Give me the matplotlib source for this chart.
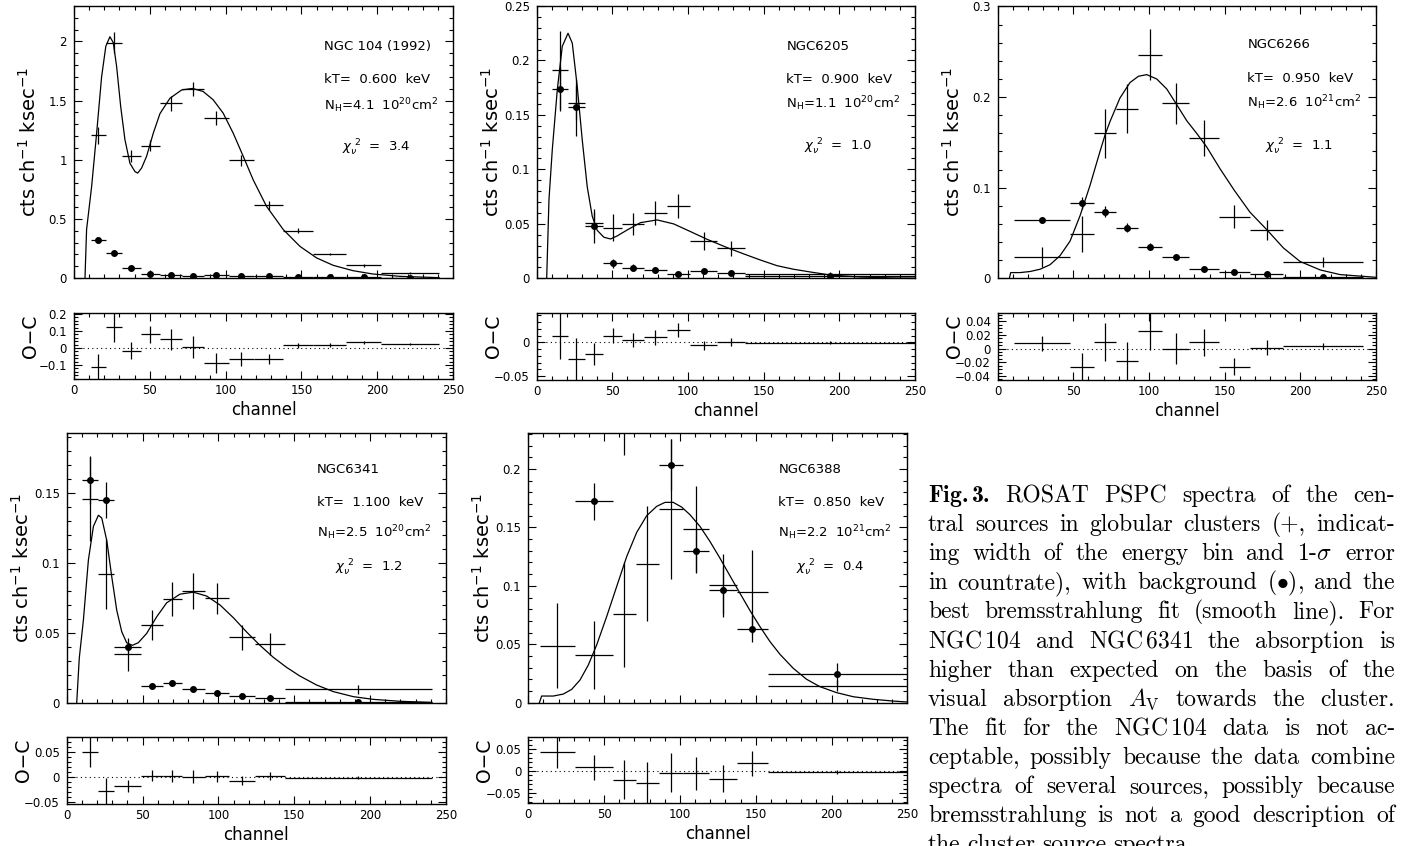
import matplotlib
matplotlib.use('Agg')
import matplotlib.pyplot as plt
import numpy as np
from matplotlib.ticker import MultipleLocator, FuncFormatter

nan = np.nan

# --- NGC 104 (1992) ---
edges1 = [11, 21, 31.4, 43.9, 56.9, 71, 85.7, 102, 118.6, 138, 157.7, 179.7, 202.8, 240.8]
src1 = [1.206, 1.99, 1.034, 1.12, 1.476, 1.597, 1.35, 0.994, 0.614, 0.40, 0.203, 0.107, 0.042]
src1_err = [0.07, 0.09, 0.05, 0.05, 0.06, 0.06, 0.06, 0.045, 0.035, 0.02, 0.012, 0.01, 0.006]
bg1 = [0.324, 0.208, 0.082, 0.034, 0.028, 0.02, 0.028, 0.017, 0.014, 0.006, 0.006, 0.006, 0.0]
bg1_err = [0.01, 0.008, 0.006, 0.005, 0.004, 0.004, 0.004, 0.003, 0.003, 0.002, 0.002, 0.002, 0.001]
res1 = [-0.112, 0.124, -0.016, 0.082, 0.051, 0.004, -0.088, -0.063, -0.063, 0.016, 0.018, 0.033, 0.025]
res1_err = [0.075, 0.09, 0.05, 0.05, 0.06, 0.065, 0.06, 0.04, 0.03, 0.015, 0.01, 0.008, 0.005]
fit1_ch = [7.25, 8.3, 11.6, 14.9, 18.2, 21.0, 23.7, 25.9, 28.1, 30.8, 33.6, 36.9, 40.2, 42.0, 44.6,
           47.9, 52.3, 56.7, 63.3, 71.0, 78.2, 85.2, 91.8, 98.4, 105.0, 111.6, 118.2, 127.0, 138.0,
           149.0, 160.0, 171.0, 184.0, 197.0, 215.0, 240.8]
fit1_y = [0.0, 0.41, 0.77, 1.22, 1.70, 1.96, 2.04, 1.99, 1.79, 1.45, 1.17, 0.97, 0.90, 0.887, 0.93,
          1.03, 1.225, 1.39, 1.52, 1.59, 1.603, 1.577, 1.507, 1.394, 1.225, 1.03, 0.83, 0.606, 0.41,
          0.268, 0.17, 0.107, 0.062, 0.034, 0.014, 0.003]

# --- NGC6205 ---
edges2 = [10.3, 20.7, 31.6, 44.0, 56.5, 70.8, 85.8, 101.6, 119.2, 137.9, 250]
src2 = [0.191, 0.161, 0.0505, 0.0466, 0.0496, 0.060, 0.0668, 0.0343, 0.0276, 0.004]
src2_err = [0.036, 0.016, 0.01, 0.012, 0.01, 0.011, 0.011, 0.008, 0.007, 0.002]
bg2 = [0.174, 0.157, 0.048, 0.0138, 0.0098, 0.0077, 0.004, 0.0067, 0.0046, 0.002]
bg2_err = [0.02, 0.026, 0.016, 0.004, 0.003, 0.003, 0.002, 0.002, 0.002, 0.001]
res2 = [0.0099, -0.025, -0.0173, 0.0099, 0.0035, 0.0074, 0.0183, -0.0045, 0.001, -0.0005]
res2_err = [0.035, 0.031, 0.017, 0.011, 0.01, 0.011, 0.011, 0.007, 0.006, 0.002]
fit2_ch = [6.6, 8.1, 10.3, 13.6, 16.9, 20.7, 23.5, 26.8, 30.1, 33.4, 36.7, 40.0, 44.4, 48.8, 53.2,
           59.8, 68.6, 79.6, 90.6, 101.6, 112.6, 125.8, 136.8, 147.8, 158.8, 169.8, 180.8, 194.0,
           213.7, 235.7, 250]
fit2_y = [0.0, 0.072, 0.118, 0.173, 0.213, 0.225, 0.216, 0.176, 0.127, 0.084, 0.057, 0.044, 0.0377,
          0.0361, 0.0389, 0.0444, 0.0511, 0.0536, 0.0499, 0.0429, 0.0358, 0.0282, 0.0224, 0.0168,
          0.0116, 0.0083, 0.0058, 0.003, 0.0012, 0.0003, 0.0001]

# --- NGC6266 ---
edges3 = [11, 47.8, 63.9, 78.2, 93, 108.8, 126.6, 146, 166.7, 188.8, 241.2]
src3 = [0.0235, 0.049, 0.16, 0.187, 0.247, 0.193, 0.155, 0.068, 0.053, 0.018]
src3_err = [0.011, 0.02, 0.027, 0.027, 0.028, 0.023, 0.02, 0.013, 0.011, 0.005]
bg3 = [0.0645, 0.083, 0.0734, 0.0559, 0.0347, 0.0231, 0.010, 0.0075, 0.0045, 0.0019]
bg3_err = [0.003, 0.007, 0.006, 0.005, 0.004, 0.003, 0.002, 0.002, 0.001, 0.001]
res3 = [0.0079, -0.0267, 0.0104, -0.0178, 0.0257, 0.0, 0.0094, -0.0262, 0.0015, 0.004]
res3_err = [0.011, 0.02, 0.028, 0.028, 0.028, 0.023, 0.02, 0.013, 0.011, 0.005]
fit3_ch = [7.7, 8.6, 14.8, 21.4, 28.0, 34.6, 41.2, 47.8, 54.4, 61.0, 67.6, 70.9, 74.2, 80.8, 87.4,
           93.0, 98.5, 105.1, 111.7, 117.8, 124.9, 131.5, 138.1, 146.9, 156.4, 166.7, 178.2, 188.8,
           199.8, 213.0, 226.2, 250]
fit3_y = [0.0, 0.0063, 0.0063, 0.0075, 0.010, 0.015, 0.025, 0.041, 0.069, 0.1025, 0.14, 0.158, 0.173,
          0.199, 0.216, 0.223, 0.2248, 0.22, 0.209, 0.193, 0.174, 0.160, 0.145, 0.121, 0.097, 0.073,
          0.053, 0.0335, 0.0186, 0.0093, 0.0041, 0.0011]

# --- NGC6341 ---
edges4 = [9.9, 20.9, 31.4, 49.0, 63.3, 75.8, 91.0, 107.2, 124.4, 143.9, 240.6]
src4 = [0.1457, 0.0917, 0.0345, 0.0555, 0.0743, 0.080, 0.0745, 0.0467, 0.0419, 0.0095]
src4_err = [0.03, 0.025, 0.012, 0.011, 0.012, 0.013, 0.011, 0.009, 0.008, 0.003]
bg4 = [0.159, 0.145, 0.0395, 0.0121, 0.014, 0.010, 0.0069, 0.0048, 0.0033, 0.0007]
bg4_err = [0.017, 0.013, 0.003, 0.002, 0.002, 0.002, 0.0015, 0.001, 0.001, 0.0005]
res4 = [0.0503, -0.0272, -0.0179, 0.0033, 0.0033, 0.0013, 0.0026, -0.0066, 0.0033, -0.0007]
res4_err = [0.03, 0.025, 0.012, 0.011, 0.012, 0.013, 0.011, 0.009, 0.008, 0.003]
fit4_ch = [6.6, 8.3, 11.0, 14.3, 17.6, 20.9, 23.1, 26.4, 29.7, 33.0, 36.3, 39.5, 43.3, 47.2, 52.7,
           59.3, 65.9, 74.7, 83.5, 92.3, 101.1, 109.9, 118.6, 127.4, 136.2, 145.0, 153.8, 164.8,
           175.8, 189.0, 202.0, 219.7, 240.6]
fit4_y = [0.0, 0.032, 0.059, 0.102, 0.126, 0.134, 0.132, 0.116, 0.09, 0.066, 0.0507, 0.0429, 0.041,
          0.0429, 0.0495, 0.0614, 0.0714, 0.0776, 0.079, 0.0762, 0.0698, 0.0607, 0.0505, 0.041,
          0.0324, 0.0252, 0.019, 0.0126, 0.0079, 0.0043, 0.0024, 0.001, 0.0002]

# --- NGC6388 ---
edges5 = [7.7, 30.8, 55.6, 70.8, 86.0, 101.8, 119.0, 137.4, 157.9, 250]
src5 = [0.0489, 0.0406, 0.0757, 0.119, 0.1657, 0.1486, 0.1003, 0.0946, 0.0146]
src5_err = [0.036, 0.029, 0.045, 0.049, 0.06, 0.037, 0.027, 0.036, 0.005]
bg5 = [nan, 0.1723, 0.26, nan, 0.2037, 0.13, 0.096, 0.0629, 0.0243]
bg5_err = [nan, 0.016, 0.048, nan, 0.022, 0.019, 0.02, 0.011, 0.01]
res5 = [0.0424, 0.0083, -0.0197, -0.028, -0.0038, -0.0053, -0.0174, 0.0174, -0.0023]
res5_err = [0.036, 0.029, 0.045, 0.049, 0.045, 0.037, 0.03, 0.028, 0.005]
fit5_ch = [7.3, 8.8, 16.5, 23.1, 28.6, 34.1, 39.6, 45.1, 51.7, 58.3, 64.9, 71.5, 78.1, 84.7, 90.2,
           95.6, 101.1, 106.6, 113.2, 119.8, 126.4, 133.0, 139.6, 146.2, 152.8, 159.4, 166.0, 174.8,
           183.6, 192.4, 203.4, 214.4, 227.6, 240.8, 250]
fit5_y = [0.0, 0.0057, 0.0057, 0.0074, 0.0114, 0.0194, 0.0323, 0.0494, 0.0737, 0.0994, 0.125, 0.1457,
          0.16, 0.168, 0.1714, 0.1714, 0.1674, 0.1609, 0.1509, 0.138, 0.1237, 0.1086, 0.0937, 0.0789,
          0.0651, 0.0523, 0.0414, 0.0294, 0.02, 0.0137, 0.0086, 0.0051, 0.0029, 0.0014, 0.0006]

names = ["NGC 104 (1992)", "NGC6205", "NGC6266", "NGC6341", "NGC6388"]
kT = ["0.600", "0.900", "0.950", "1.100", "0.850"]
NH = ["4.1", "1.1", "2.6", "2.5", "2.2"]
NH_exp = ["20", "20", "21", "20", "21"]
chi2 = ["3.4", "1.0", "1.1", "1.2", "0.4"]

# '~' marks a thin, unbreakable space
caption = [
    "Fig.~3. ROSAT PSPC spectra of the cen-",
    "tral sources in globular clusters (+, indicat-",
    "ing width of the energy bin and 1-$\\sigma$ error",
    "in countrate), with background ($\\bullet$), and the",
    "best bremsstrahlung fit (smooth line). For",
    "NGC~104 and NGC~6341 the absorption is",
    "higher than expected on the basis of the",
    "visual absorption $A_\\mathrm{V}$ towards the cluster.",
    "The fit for the NGC~104 data is not ac-",
    "ceptable, possibly because the data combine",
    "spectra of several sources, possibly because",
    "bremsstrahlung is not a good description of",
    "the cluster source spectra.",
]

W, H = 1401, 846
fig = plt.figure(figsize=(W / 100, H / 100), dpi=100)

# pixel boxes: left, right, top, bottom (main), top, bottom (residual)
boxes = [
    (74, 453, 6, 278, 313, 379),
    (536.7, 915, 6, 278.3, 312.7, 380),
    (997.7, 1376, 6.5, 278.3, 313.3, 380),
    (66.7, 446, 432.7, 702.7, 736.7, 804),
    (528.3, 907.3, 432.7, 702.7, 736.7, 803.3),
]
main_ylim = [2.30, 0.25, 0.30, 0.193, 0.231]
main_major = [0.5, 0.05, 0.1, 0.05, 0.05]
main_minor = [0.1, 0.01, 0.02, 0.01, 0.01]
res_ylim = [(-0.182, 0.206), (-0.056, 0.044), (-0.046, 0.052), (-0.053, 0.081), (-0.0735, 0.078)]
res_major = [0.1, 0.05, 0.02, 0.05, 0.05]
res_minor = [0.02, 0.01, 0.005, 0.01, 0.01]
text_y = [(0.85, 0.73, 0.635, 0.477), (0.85, 0.73, 0.64, 0.483), (0.86, 0.735, 0.645, 0.485),
          (0.862, 0.742, 0.628, 0.5), (0.862, 0.742, 0.628, 0.5)]

panels = [
    (edges1, src1, src1_err, bg1, bg1_err, res1, res1_err, fit1_ch, fit1_y),
    (edges2, src2, src2_err, bg2, bg2_err, res2, res2_err, fit2_ch, fit2_y),
    (edges3, src3, src3_err, bg3, bg3_err, res3, res3_err, fit3_ch, fit3_y),
    (edges4, src4, src4_err, bg4, bg4_err, res4, res4_err, fit4_ch, fit4_y),
    (edges5, src5, src5_err, bg5, bg5_err, res5, res5_err, fit5_ch, fit5_y),
]


def fmt(v, pos):
    if abs(v) < 1e-9:
        return "0"
    return f"{v:g}".replace('-', '\u2212')


def style(ax, major, minor):
    ax.set_xlim(0, 250)
    ax.xaxis.set_major_locator(MultipleLocator(50))
    ax.xaxis.set_minor_locator(MultipleLocator(10))
    ax.yaxis.set_major_locator(MultipleLocator(major))
    ax.yaxis.set_minor_locator(MultipleLocator(minor))
    ax.yaxis.set_major_formatter(FuncFormatter(fmt))
    ax.tick_params(which='both', direction='in', top=True, right=True, width=0.8, labelsize=8.5)
    ax.tick_params(which='major', length=6)
    ax.tick_params(which='minor', length=3)
    ax.tick_params(axis='y', pad=5)
    for s in ax.spines.values():
        s.set_linewidth(1.0)


def rect(l, r, t, b):
    return [l / W, (H - b) / H, (r - l) / W, (b - t) / H]


for i, (edges, src, src_err, bg, bg_err, res, res_err, fch, fy) in enumerate(panels):
    l, r, t, b, rt, rb = boxes[i]
    e = np.array(edges)
    c = (e[:-1] + e[1:]) / 2
    xerr = [c - e[:-1], e[1:] - c]

    ax = fig.add_axes(rect(l, r, t, b))
    ax.plot(fch, fy, color='k', lw=0.9)
    ax.errorbar(c, src, xerr=xerr, yerr=src_err, fmt='none', ecolor='k', elinewidth=0.9)
    ax.errorbar(c, bg, xerr=xerr, yerr=bg_err, fmt='o', color='k', ms=4, elinewidth=0.9)
    ax.set_ylim(0, main_ylim[i])
    style(ax, main_major[i], main_minor[i])
    ax.tick_params(axis='x', labelbottom=False)
    ax.set_ylabel("cts ch$^{-1}$ ksec$^{-1}$", fontsize=14)
    ax.yaxis.set_label_coords(-0.09, 0.5)

    ty = text_y[i]
    ax.text(0.66, ty[0], names[i], transform=ax.transAxes, fontsize=9.5, va='center')
    ax.text(0.66, ty[1], f"kT=  {kT[i]}  keV", transform=ax.transAxes, fontsize=9.5, va='center')
    ax.text(0.66, ty[2], "N$_{\\rm H}$=" + NH[i] + "  10$^{" + NH_exp[i] + "}$cm$^2$",
            transform=ax.transAxes, fontsize=9.5, va='center')
    ax.text(0.707, ty[3], "$\\chi_\\nu^{\\ 2}$  =  " + chi2[i], transform=ax.transAxes,
            fontsize=9.5, va='center')

    rx = fig.add_axes(rect(l, r, rt, rb))
    rx.axhline(0, color='k', lw=0.8, ls=(0, (1, 3)))
    rx.errorbar(c, res, xerr=xerr, yerr=res_err, fmt='none', ecolor='k', elinewidth=0.9)
    rx.set_ylim(*res_ylim[i])
    style(rx, res_major[i], res_minor[i])
    rx.xaxis.set_major_formatter(FuncFormatter(fmt))
    rx.set_ylabel("O\u2212C", fontsize=13.5)
    rx.yaxis.set_label_coords(-0.09, 0.65)
    rx.set_xlabel("channel", fontsize=12)
    rx.xaxis.set_label_coords(0.5, -0.33)

# caption, justified word by word
renderer = fig.canvas.get_renderer()
x0, x1 = 928, 1395
for i, line in enumerate(caption):
    y = (H - (502 + 29.1 * i)) / H
    words = line.split(' ')
    arts = []
    for j, w in enumerate(words):
        fam = ['cmb10', 'DejaVu Serif'] if (i == 0 and j == 0) else ['cmr10', 'DejaVu Serif']
        a = fig.text(0, y, w.replace('~', '$\\,$'), family=fam, fontsize=17,
                     va='baseline', math_fontfamily='cm')
        arts.append(a)
    widths = [a.get_window_extent(renderer).width for a in arts]
    if i < len(caption) - 1:
        gap = (x1 - x0 - sum(widths)) / (len(words) - 1)
    else:
        gap = 7
    x = x0
    for a, w in zip(arts, widths):
        a.set_x(x / W)
        x += w + gap

fig.savefig("out.png", dpi=100)
